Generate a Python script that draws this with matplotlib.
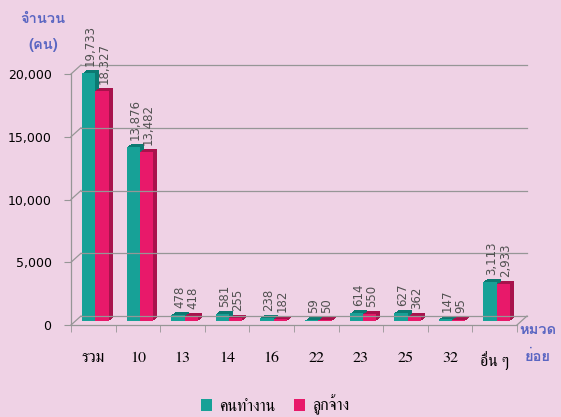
import matplotlib
matplotlib.use("Agg")
import matplotlib.pyplot as plt
from matplotlib import font_manager
from matplotlib.transforms import ScaledTranslation

categories = ['รวม', '10', '13', '14', '16', '22', '23', '25', '32', 'อื่น ๆ']
workers = [19733, 13876, 478, 581, 238, 59, 614, 627, 147, 3113]
employees = [18327, 13482, 418, 255, 182, 50, 550, 362, 95, 2933]
series_names = ['คนทำงาน', 'ลูกจ้าง']
yticks = [0, 5000, 10000, 15000, 20000]

installed = {f.name for f in font_manager.fontManager.ttflist}


def pick(*names):
    return [n for n in names if n in installed] + ['DejaVu Sans']


sans_th = pick('Loma', 'Noto Sans Thai Looped', 'Noto Sans Thai')
serif_th = pick('Norasi', 'Kinnari', 'FreeSerif', 'Noto Serif Thai')
plt.rcParams['font.family'] = sans_th

bg = '#efd2e5'
teal, teal_dk = '#17a197', '#0c7a72'
pink, pink_dk = '#e8196a', '#a8124c'
line_c = '#969696'
blue = '#5a66c2'

fig = plt.figure(figsize=(5.61, 4.17), dpi=100, facecolor=bg)
ax = fig.add_axes([71 / 561, (417 - 325) / 417, (517 - 71) / 561, 251 / 417])
ax.set_facecolor('none')
ax.set_xlim(-0.5, 9.5)
ax.set_ylim(0, 20000)
for s in ax.spines.values():
    s.set_visible(False)


def off(dx, dy):
    return ax.transData + ScaledTranslation(dx / 100, dy / 100, fig.dpi_scale_trans)


def shifted(x, y, dx, dy):
    d = ax.transData.transform((x, y))
    return ax.transData.inverted().transform((d[0] + dx, d[1] + dy))


# back wall grid + side wall diagonals
wall_dx, wall_dy = 10, 9
for y in yticks:
    ax.plot([-0.5, 9.5], [y, y], color=line_c, lw=0.9, transform=off(wall_dx, wall_dy), clip_on=False)
    p = shifted(-0.5, y, wall_dx, wall_dy)
    ax.plot([-0.5, p[0]], [y, p[1]], color=line_c, lw=0.9, clip_on=False)
# floor
ax.plot([-0.5, 9.5], [0, 0], color=line_c, lw=0.9, clip_on=False)
p = shifted(9.5, 0, wall_dx, wall_dy)
ax.plot([9.5, p[0]], [0, p[1]], color=line_c, lw=0.9, clip_on=False)
ax.plot([-0.5, -0.5], [0, 20000], color=line_c, lw=0.9, clip_on=False)

# bars with extruded depth
x = list(range(len(categories)))
w = 0.3
xt = [i - w / 2 for i in x]
xp = [i + w / 2 for i in x]
bx, by = 2, 4
for k in range(1, 5):
    ax.bar(xt, workers, w, color=teal_dk, transform=off(bx + k, by + k * 0.75), clip_on=False)
b1 = ax.bar(xt, workers, w, color=teal, transform=off(bx, by), clip_on=False)
for k in range(1, 5):
    ax.bar(xp, employees, w, color=pink_dk, transform=off(bx + k, by + k * 0.75), clip_on=False)
b2 = ax.bar(xp, employees, w, color=pink, transform=off(bx, by), clip_on=False)

for xs, vals in ((xt, workers), (xp, employees)):
    for xi, v in zip(xs, vals):
        ax.text(xi, v, f'{v:,}', rotation=90, ha='center', va='bottom', fontsize=8.5,
                color='#505050', family='DejaVu Sans', transform=off(4, 11))

ax.set_yticks(yticks)
ax.set_yticklabels([f'{t:,}' for t in yticks], family='DejaVu Sans')
ax.tick_params(axis='y', length=5, color=line_c, pad=9, labelsize=9)
ax.set_xticks(x)
ax.set_xticklabels(categories, family=serif_th)
ax.tick_params(axis='x', which='major', length=0, pad=19, labelsize=11.5)
ax.set_xticks([i - 0.5 for i in range(len(categories) + 1)], minor=True)
ax.tick_params(axis='x', which='minor', length=5, color=line_c)

for txt, px, py in (('จำนวน', 43, 19), ('(คน)', 43, 45), ('หมวด', 538, 330), ('ย่อย', 538, 357)):
    fig.text(px / 561, 1 - py / 417, txt, ha='center', va='center', color=blue,
             fontsize=10.5, fontweight='bold')

fig.legend([b1, b2], series_names, loc='center', bbox_to_anchor=(275 / 561, 1 - 405 / 417), ncol=2,
           frameon=False, prop={'family': serif_th, 'size': 11.5}, handlelength=0.7,
           handleheight=0.7, handletextpad=0.4, columnspacing=1.2)

fig.savefig('out.png', dpi=100, facecolor=bg)
